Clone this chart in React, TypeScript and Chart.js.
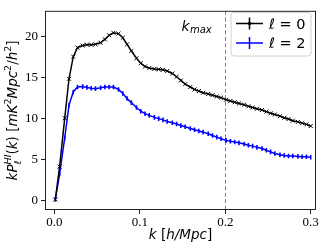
import React, { useEffect, useRef } from 'react';
import { Chart, registerables } from 'chart.js';
Chart.register(...registerables);

const kValues = [0.001, 0.006, 0.012, 0.017, 0.022, 0.027, 0.033, 0.038, 0.043, 0.048, 0.054, 0.059, 0.064, 0.069, 0.075, 0.080, 0.085, 0.090, 0.096, 0.101, 0.106, 0.111, 0.117, 0.122, 0.127, 0.132, 0.138, 0.143, 0.148, 0.153, 0.159, 0.164, 0.169, 0.174, 0.180, 0.185, 0.190, 0.195, 0.201, 0.206, 0.211, 0.216, 0.222, 0.227, 0.232, 0.237, 0.243, 0.248, 0.253, 0.258, 0.264, 0.269, 0.274, 0.279, 0.285, 0.290, 0.295, 0.300];
const pL0 = [0.1, 4.1, 10.0, 14.8, 17.5, 18.6, 18.85, 18.95, 18.95, 19.0, 19.2, 19.6, 20.1, 20.4, 20.3, 19.8, 19.0, 18.2, 17.3, 16.7, 16.3, 16.1, 16.0, 15.95, 15.9, 15.75, 15.45, 15.05, 14.6, 14.15, 13.8, 13.5, 13.3, 13.1, 12.95, 12.8, 12.65, 12.5, 12.25, 12.1, 11.95, 11.8, 11.65, 11.45, 11.3, 11.15, 11.0, 10.8, 10.6, 10.45, 10.25, 10.05, 9.9, 9.7, 9.55, 9.4, 9.25, 9.05];
const pL2 = [0.1, 3.2, 7.6, 11.6, 13.2, 13.8, 13.85, 13.75, 13.65, 13.6, 13.7, 13.8, 13.8, 13.8, 13.5, 13.0, 12.4, 11.9, 11.3, 10.85, 10.55, 10.35, 10.1, 9.95, 9.8, 9.6, 9.45, 9.3, 9.1, 8.95, 8.75, 8.6, 8.45, 8.3, 8.1, 7.9, 7.7, 7.5, 7.3, 7.2, 7.1, 7.0, 6.85, 6.7, 6.6, 6.45, 6.3, 6.1, 5.9, 5.7, 5.55, 5.45, 5.4, 5.4, 5.35, 5.3, 5.3, 5.25];
const xTicks = [0, 0.1, 0.2, 0.3];
const yTicks = [0, 5, 10, 15, 20];
const kMax = 0.2;
const legendLabels = ['\u2113 = 0', '\u2113 = 2'];
const seriesColors = ['#000000', '#0000ff'];

type Piece = { t: string; f: string; dy?: number } | { stack: { t: string; f: string; dy: number }[] };

function drawPieces(ctx: CanvasRenderingContext2D, pieces: Piece[], cx: number, baseline: number) {
  const widths = pieces.map((p: any) => {
    if (p.stack) {
      return Math.max(...p.stack.map((s: any) => { ctx.font = s.f; return ctx.measureText(s.t).width; }));
    }
    ctx.font = p.f;
    return ctx.measureText(p.t).width;
  });
  const total = widths.reduce((a, b) => a + b, 0);
  let x = cx - total / 2;
  ctx.textBaseline = 'alphabetic';
  ctx.textAlign = 'left';
  pieces.forEach((p: any, i) => {
    if (p.stack) {
      p.stack.forEach((s: any) => { ctx.font = s.f; ctx.fillText(s.t, x, baseline + s.dy); });
    } else {
      ctx.font = p.f;
      ctx.fillText(p.t, x, baseline + (p.dy || 0));
    }
    x += widths[i];
  });
}

export default function App() {
  const ref = useRef<HTMLCanvasElement>(null);
  useEffect(() => {
    document.body.style.margin = '0';
    const canvas = ref.current!;
    const overlay = {
      id: 'overlay',
      beforeDatasetsDraw(chart: any) {
        const { ctx, chartArea } = chart;
        const xs = chart.scales.x;
        const px = Math.round(xs.getPixelForValue(kMax)) + 0.5;
        ctx.save();
        ctx.strokeStyle = '#808080';
        ctx.lineWidth = 1;
        ctx.setLineDash([4, 2.5]);
        ctx.beginPath();
        ctx.moveTo(px, chartArea.top);
        ctx.lineTo(px, chartArea.bottom);
        ctx.stroke();
        ctx.restore();
      },
      afterDraw(chart: any) {
        const { ctx, chartArea } = chart;
        ctx.save();
        // frame
        ctx.strokeStyle = '#222';
        ctx.lineWidth = 1;
        ctx.strokeRect(chartArea.left + 0.5, chartArea.top + 0.5, chartArea.right - chartArea.left - 1, chartArea.bottom - chartArea.top - 1);
        ctx.fillStyle = '#000';
        // k_max
        ctx.font = 'italic 14px "DejaVu Sans"';
        ctx.textBaseline = 'alphabetic';
        ctx.fillText('k', 181.5, 31);
        ctx.font = 'italic 10px "DejaVu Sans"';
        ctx.fillText('max', 190, 33);
        // legend
        const lx = 231, ly = 12.5, lw = 80, lh = 43.5;
        ctx.beginPath();
        const r = 3;
        ctx.moveTo(lx + r, ly);
        ctx.arcTo(lx + lw, ly, lx + lw, ly + lh, r);
        ctx.arcTo(lx + lw, ly + lh, lx, ly + lh, r);
        ctx.arcTo(lx, ly + lh, lx, ly, r);
        ctx.arcTo(lx, ly, lx + lw, ly, r);
        ctx.closePath();
        ctx.fillStyle = 'rgba(255,255,255,0.8)';
        ctx.fill();
        ctx.strokeStyle = '#d0d0d0';
        ctx.lineWidth = 1;
        ctx.stroke();
        legendLabels.forEach((lab, i) => {
          const yy = 23.5 + i * 19.5;
          ctx.strokeStyle = seriesColors[i];
          ctx.lineWidth = 1.5;
          ctx.beginPath();
          ctx.moveTo(236, yy);
          ctx.lineTo(263, yy);
          ctx.moveTo(249.5, yy - 6);
          ctx.lineTo(249.5, yy + 6);
          ctx.stroke();
          if (i === 0) {
            ctx.fillStyle = seriesColors[i];
            ctx.beginPath();
            ctx.arc(249.5, yy, 1.8, 0, Math.PI * 2);
            ctx.fill();
          }
          ctx.fillStyle = '#000';
          ctx.font = '14.5px "DejaVu Sans"';
          ctx.fillText(lab, 269, yy + 5.2);
        });
        // axis titles
        ctx.fillStyle = '#000';
        const it = 'italic 13.5px "DejaVu Sans"';
        const up = '13.5px "DejaVu Sans"';
        const its = 'italic 9.5px "DejaVu Sans"';
        const ups = '9.5px "DejaVu Sans"';
        drawPieces(ctx, [
          { t: 'k', f: it },
          { t: ' [', f: up },
          { t: 'h/Mpc', f: it },
          { t: ']', f: up },
        ], (chartArea.left + chartArea.right) / 2, 239);
        ctx.save();
        ctx.translate(17, (chartArea.top + chartArea.bottom) / 2);
        ctx.rotate(-Math.PI / 2);
        drawPieces(ctx, [
          { t: 'kP', f: it },
          { stack: [{ t: '\u2113', f: ups, dy: 3.5 }, { t: 'HI', f: its, dy: -6 }] },
          { t: '(', f: up },
          { t: 'k', f: it },
          { t: ') [', f: up },
          { t: 'mK', f: it },
          { t: '2', f: ups, dy: -6 },
          { t: 'Mpc', f: it },
          { t: '2', f: ups, dy: -6 },
          { t: '/', f: up },
          { t: 'h', f: it },
          { t: '2', f: ups, dy: -6 },
          { t: ']', f: up },
        ], 0, 0);
        ctx.restore();
        ctx.restore();
      },
    };
    const chart = new Chart(canvas, {
      type: 'line',
      data: {
        datasets: [
          {
            label: legendLabels[0],
            data: kValues.map((k, i) => ({ x: k, y: pL0[i] })),
            borderColor: seriesColors[0],
            backgroundColor: seriesColors[0],
            borderWidth: 1.5,
            pointStyle: 'crossRot',
            pointRadius: 2.8,
            pointBorderWidth: 1,
            pointBorderColor: seriesColors[0],
            tension: 0,
          },
          {
            label: legendLabels[1],
            data: kValues.map((k, i) => ({ x: k, y: pL2[i] })),
            borderColor: seriesColors[1],
            backgroundColor: seriesColors[1],
            borderWidth: 1.5,
            pointStyle: 'line',
            pointRotation: 90,
            pointRadius: 2.3,
            pointBorderWidth: 1.6,
            pointBorderColor: seriesColors[1],
            tension: 0,
          },
        ],
      },
      options: {
        responsive: false,
        animation: false,
        events: [],
        layout: { padding: { top: 5, right: 8, left: 0, bottom: 0 } },
        plugins: { legend: { display: false }, tooltip: { enabled: false } },
        scales: {
          x: {
            type: 'linear',
            min: -0.0111,
            max: 0.3062,
            afterFit(s: any) { s.height = 39; },
            afterBuildTicks(s: any) { s.ticks = xTicks.map((v) => ({ value: v })); },
            ticks: {
              callback: (v: any) => Number(v).toFixed(1),
              font: { family: 'Liberation Serif', size: 13 },
              color: '#000',
              padding: 1,
              maxRotation: 0,
              autoSkip: false,
            },
            grid: { drawOnChartArea: false, tickLength: 4, tickColor: '#222', tickWidth: 1 },
            border: { display: false },
          },
          y: {
            type: 'linear',
            min: -1.18,
            max: 23.08,
            afterFit(s: any) { s.width = 45; },
            afterBuildTicks(s: any) { s.ticks = yTicks.map((v) => ({ value: v })); },
            ticks: {
              callback: (v: any) => String(v),
              font: { family: 'Liberation Serif', size: 13 },
              color: '#000',
              padding: 3,
              autoSkip: false,
            },
            grid: { drawOnChartArea: false, tickLength: 4, tickColor: '#222', tickWidth: 1 },
            border: { display: false },
          },
        },
      },
      plugins: [overlay],
    } as any);
    return () => chart.destroy();
  }, []);
  return <canvas ref={ref} width={324} height={249} style={{ display: 'block' }} />;
}
